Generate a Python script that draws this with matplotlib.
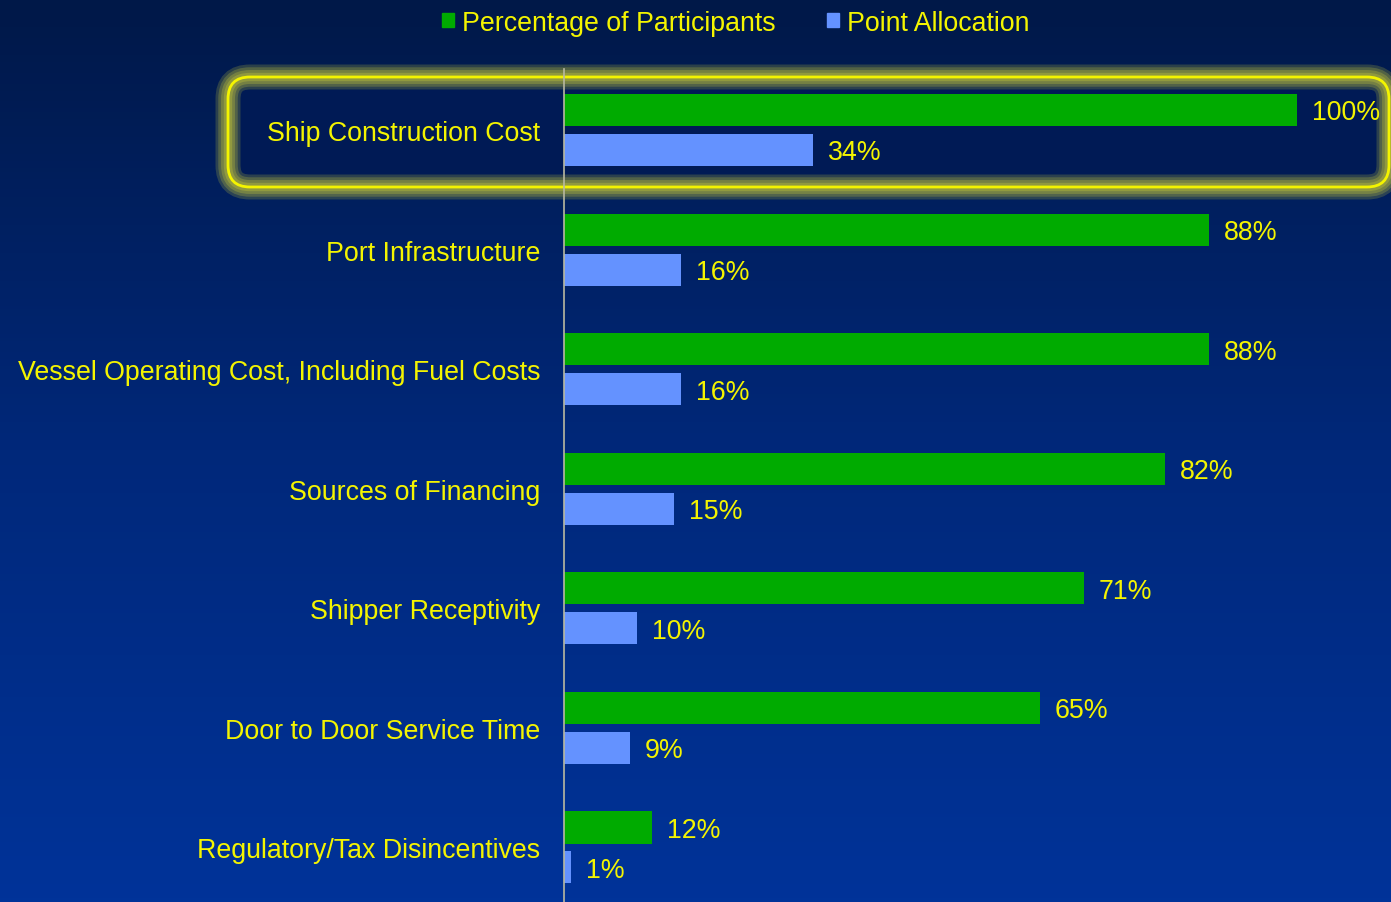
import numpy as np
import matplotlib.pyplot as plt
from matplotlib.patches import FancyBboxPatch, Patch
from matplotlib.colors import LinearSegmentedColormap

categories = [
    "Ship Construction Cost",
    "Port Infrastructure",
    "Vessel Operating Cost, Including Fuel Costs",
    "Sources of Financing",
    "Shipper Receptivity",
    "Door to Door Service Time",
    "Regulatory/Tax Disincentives",
]
participants = [100, 88, 88, 82, 71, 65, 12]
points = [34, 16, 16, 15, 10, 9, 1]
series_names = ["Percentage of Participants", "Point Allocation"]

GREEN = "#00ab00"
BLUE = "#6492ff"
YELLOW = "#f4f400"
FONT = ["Liberation Sans", "DejaVu Sans"]
FS = 19.3

W, H = 1391, 903
fig = plt.figure(figsize=(W / 100, H / 100), dpi=100)

# background gradient, pixel coords
bg = fig.add_axes([0, 0, 1, 1], zorder=0)
cmap = LinearSegmentedColormap.from_list("bg", ["#001848", "#00287a", "#003399"])
grad = np.linspace(0, 1, 256).reshape(-1, 1)
bg.imshow(grad, aspect="auto", cmap=cmap, extent=[0, W, H, 0], origin="upper")
bg.set_xlim(0, W)
bg.set_ylim(H, 0)
bg.axis("off")

# highlight box around first category
bx, by, bw, bh = 228, 78, 1161, 110
style = "round,pad=0,rounding_size=22"
bg.add_patch(FancyBboxPatch((bx, by), bw, bh, boxstyle=style,
                            facecolor="#001a55", edgecolor="none"))
for lw, a in [(18, 0.22), (14, 0.25), (10, 0.3), (6, 0.35)]:
    bg.add_patch(FancyBboxPatch((bx, by), bw, bh, boxstyle=style,
                                facecolor="none", edgecolor="#c8c838",
                                lw=lw, alpha=a))
bg.add_patch(FancyBboxPatch((bx, by), bw, bh, boxstyle=style,
                            facecolor="none", edgecolor=YELLOW, lw=2.0))

# main bar axes
ax_left = 564 / W
ax_top = 70 / H
ax = fig.add_axes([ax_left, 0, 1 - ax_left, 1 - ax_top], zorder=2)
ax.patch.set_alpha(0)

y = np.arange(len(categories))
off = 0.167
h = 0.268
ax.barh(y - off, participants, height=h, color=GREEN)
ax.barh(y + off, points, height=h, color=BLUE)

for i in range(len(categories)):
    ax.text(participants[i] + 2.0, y[i] - off + 0.02, f"{participants[i]}%",
            va="center", ha="left", color=YELLOW, fontsize=FS, family=FONT)
    ax.text(points[i] + 2.0, y[i] + off + 0.02, f"{points[i]}%",
            va="center", ha="left", color=YELLOW, fontsize=FS, family=FONT)

ax.set_xlim(0, (W - 564) / 7.33)
ax.set_ylim(6.456, -0.51)
ax.set_yticks(y)
ax.set_yticklabels(categories, color=YELLOW, fontsize=FS, family=FONT)
ax.tick_params(axis="y", length=0, pad=17)
ax.set_xticks([])
for s in ["top", "right", "bottom"]:
    ax.spines[s].set_visible(False)
ax.spines["left"].set_color("#b8b8a0")
ax.spines["left"].set_linewidth(1.2)

handles = [Patch(color=GREEN), Patch(color=BLUE)]
fig.legend(handles, series_names, loc="upper center", bbox_to_anchor=(0.529, 1.015),
           ncol=2, frameon=False, handlelength=0.45, handleheight=0.45,
           handletextpad=0.3, columnspacing=1.9,
           prop={"family": FONT, "size": FS}, labelcolor=YELLOW)

fig.savefig("out.png", dpi=100)
